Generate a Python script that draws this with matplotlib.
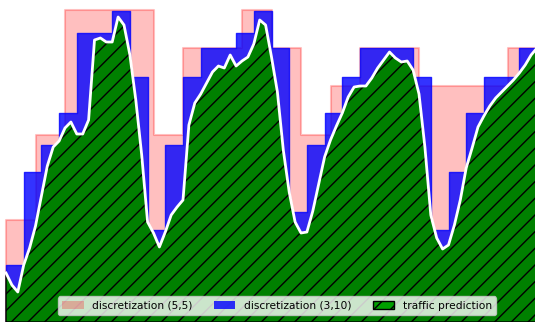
import numpy as np
import matplotlib
matplotlib.use("Agg")
import matplotlib.pyplot as plt

# traffic prediction, one value per time step (t = 0..90)
prediction = [49, 37, 30, 57, 74, 96, 126, 156, 175, 181,
              194, 200, 188, 188, 202, 282, 284, 280, 280, 305,
              297, 267, 222, 167, 100, 89, 75, 90, 107, 115,
              122, 197, 219, 228, 239, 250, 256, 254, 267, 256,
              261, 265, 278, 302, 297, 265, 230, 172, 130, 100,
              89, 90, 111, 138, 165, 182, 196, 209, 225, 235,
              236, 236, 244, 254, 262, 270, 264, 260, 261, 252,
              228, 175, 107, 84, 73, 77, 97, 122, 154, 174,
              195, 206, 216, 224, 230, 236, 242, 249, 257, 267,
              274]

# discretization (5,5): one level per window of 5 steps
disc_5_5 = [102, 187, 312, 312, 312, 187, 274, 274, 312, 274,
            187, 236, 274, 274, 236, 236, 236, 274]
window_5_5 = 5

# discretization (3,10): one level per window of 3 steps
disc_3_10 = [57, 150, 177, 209, 289, 289, 311, 245, 92, 177,
             245, 274, 274, 289, 311, 274, 110, 177, 209, 245,
             274, 274, 274, 245, 92, 150, 209, 245, 245, 274]
window_3_10 = 3

labels = ["discretization (5,5)", "discretization (3,10)", "traffic prediction"]

t = np.arange(len(prediction))

def steps(levels, w):
    v = np.repeat(levels, w)
    v = np.append(v, v[-1])
    return np.arange(len(v)), v

fig = plt.figure(figsize=(5.35, 3.22), dpi=100)
ax = fig.add_axes([0, 0, 1, 1])

x5, v5 = steps(disc_5_5, window_5_5)
x3, v3 = steps(disc_3_10, window_3_10)

ax.fill_between(x5, v5, 0, step="post", color="red", alpha=0.25,
                linewidth=1.5, label=labels[0], zorder=1)
ax.fill_between(x3, v3, 0, step="post", color="blue", alpha=0.8,
                linewidth=1.0, label=labels[1], zorder=2)
ax.fill_between(t, prediction, 0, facecolor="green", edgecolor="black",
                hatch="//", linewidth=1.0, label=labels[2], zorder=3)
ax.plot(t, prediction, color="white", linewidth=2.0, zorder=4)

ax.set_xlim(-6 / 5.9, 529 / 5.9)
ax.set_ylim(0, 322)
ax.axis("off")

leg = ax.legend(loc="lower center", bbox_to_anchor=(0.518, 0.012), ncol=3,
                fontsize=7.7, borderaxespad=0.3, bbox_transform=fig.transFigure)
handles = leg.legend_handles
handles[0].set_linewidth(0)
handles[1].set_linewidth(0)
handles[2].set_facecolor("#00a000")

fig.savefig("out.png", dpi=100)
